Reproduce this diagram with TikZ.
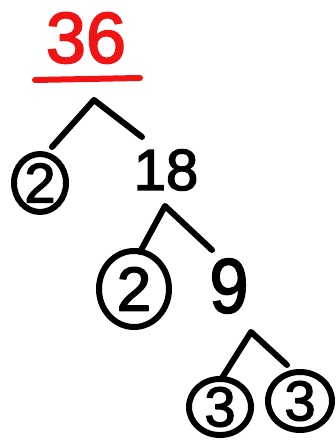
\documentclass[tikz,border=0pt]{standalone}
\usepackage{fontspec}
\setmainfont{Liberation Sans}
\newfontfamily\hand{Liberation Sans}[FakeBold=2.5]
\usetikzlibrary{shapes.geometric}
\definecolor{penred}{RGB}{240,20,20}
\tikzset{
  pen/.style={line width=6pt, line cap=round, line join=round},
  num/.style={inner sep=0pt, font=\hand\fontsize{58}{58}\selectfont},
  circled/.style={ellipse, draw, pen, inner sep=0pt, font=\hand\fontsize{56}{56}\selectfont}
}
\begin{document}
\begin{tikzpicture}[x=1pt,y=1pt]
\useasboundingbox (0,0) rectangle (336,441);
% root
\node[num, text=penred, font=\hand\fontsize{72}{72}\selectfont] (root) at (86,403) {36};
\coordinate (ulA) at (35,361);
\coordinate (ulB) at (140,363);
\draw[pen, penred] (ulA) -- (ulB);
% first split
\coordinate (b1) at (94,341);
\coordinate (b1l) at (52,294);
\coordinate (b1r) at (142,304);
\draw[pen] (b1l) -- (b1) -- (b1r);
\node[circled, minimum width=52pt, minimum height=58pt] (c1) at (40,258) {2};
\node[num] (n18) at (166,271) {18};
% second split
\coordinate (b2) at (165,235);
\coordinate (b2l) at (140,189);
\coordinate (b2r) at (212,191);
\draw[pen] (b2l) -- (b2) -- (b2r);
\node[circled, minimum width=70pt, minimum height=76pt, font=\hand\fontsize{62}{62}\selectfont] (c2) at (134,152) {2};
\node[num, font=\hand\fontsize{70}{70}\selectfont, yscale=1.1] (n9) at (229,155) {9};
% third split
\coordinate (b3) at (251,109);
\coordinate (b3l) at (222,63);
\coordinate (b3r) at (287,76);
\draw[pen] (b3l) -- (b3) -- (b3r);
\node[circled, minimum width=62pt, minimum height=54pt] (c3) at (220,34) {3};
\node[circled, minimum width=64pt, minimum height=58pt] (c4) at (300,40) {3};
\end{tikzpicture}
\end{document}
